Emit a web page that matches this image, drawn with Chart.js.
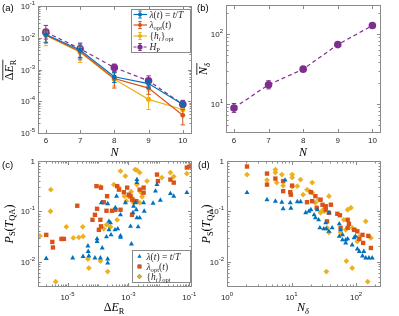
<!DOCTYPE html>
<html>
<head>
<meta charset="utf-8">
<script src="https://cdn.jsdelivr.net/npm/chart.js@4.4.0/dist/chart.umd.min.js"></script>
<style>
html, body { margin: 0; padding: 0; background: #fff; }
#wrap { position: relative; width: 399px; height: 316px; overflow: hidden; }
canvas { position: absolute; left: 0; top: 0; }
</style>
</head>
<body>
<div id="wrap">
  <canvas id="pa" width="399" height="316"></canvas>
  <canvas id="pb" width="399" height="316"></canvas>
  <canvas id="pc" width="399" height="316"></canvas>
  <canvas id="pd" width="399" height="316"></canvas>
</div>
<script>
// ---- values ----
const sizes = [6, 7, 8, 9, 10];

// (a) mean residual energy vs N (value, lower / upper end of error bar)
const erLinear   = [1.26e-2, 4.1e-3, 5.9e-4, 3.6e-4, 7.9e-5];
const erLinearLo = [7.2e-3, 2.3e-3, 3.9e-4, 2.6e-4, 6.3e-5];
const erLinearHi = [1.78e-2, 6.3e-3, 8.1e-4, 4.6e-4, 1.0e-4];
const erOpt      = [1.23e-2, 3.7e-3, 5.2e-4, 2.6e-4, 3.6e-5];
const erOptLo    = [6.8e-3, 2.0e-3, 2.6e-4, 1.66e-4, 1.8e-5];
const erOptHi    = [1.7e-2, 5.6e-3, 8.1e-4, 3.9e-4, 5.5e-5];
const erFields   = [1.17e-2, 3.5e-3, 4.9e-4, 1.15e-4, 5.5e-5];
const erFieldsLo = [5.6e-3, 1.66e-3, 3.0e-4, 5.5e-5, 3.8e-5];
const erFieldsHi = [1.5e-2, 5.0e-3, 7.4e-4, 2.1e-4, 7.9e-5];
const erHP       = [1.5e-2, 4.5e-3, 1.15e-3, 4.4e-4, 8.0e-5];
const erHPLo     = [9.1e-3, 2.4e-3, 8.7e-4, 3.0e-4, 6.2e-5];
const erHPHi     = [2.45e-2, 6.8e-3, 1.48e-3, 6.3e-4, 1.07e-4];

// (b) mean N_delta vs N
const nDelta   = [8.8, 18.9, 31.6, 71, 133];
const nDeltaLo = [7.6, 16.5, 29.5, 67, 127];
const nDeltaHi = [10.2, 21.6, 34, 75, 139];

// (c) [log10 dE_R, log10 P_S] per instance
const cLinear = [[-5.70,-1.94],[-4.83,-1.93],[-4.49,-1.90],[-4.33,-1.69],[-4.32,-1.80],[-4.30,-1.89],[-4.10,-1.93],[-4.03,-1.55],[-4.03,-1.60],[-3.92,-1.93],[-3.86,-1.73],[-3.72,-1.51],[-3.68,-1.95],[-3.68,-2.03],[-3.64,-1.37],[-3.64,-1.20],[-3.57,-1.47],[-3.44,-1.37],[-3.35,-1.35],[-3.26,-1.49],[-3.89,-0.83],[-3.68,-0.85],[-3.39,-0.70],[-3.26,-1.07],[-3.10,-0.83],[-2.90,-1.65],[-2.85,-1.03],[-2.83,-0.90],[-2.74,-0.97],[-2.72,-1.13],[-2.68,-1.31],[-2.63,-1.13],[-2.50,-0.83],[-2.48,-1.00],[-2.72,-0.37],[-2.72,-0.43],[-2.06,-0.47],[-2.11,-0.60],[-1.95,-0.78],[-1.62,-0.65],[-1.51,-0.70],[-1.08,-0.63],[-3.43,-0.93],[-3.59,-1.23],[-2.93,-1.30],[-2.77,-0.83],[-2.19,-0.84],[-3.26,-1.52]];
const cOpt = [[-5.70,-1.47],[-5.50,-1.61],[-5.48,-1.72],[-5.20,-1.55],[-5.12,-1.55],[-4.68,-0.89],[-4.05,-0.50],[-3.90,-0.53],[-4.03,-0.95],[-4.10,-1.07],[-3.92,-1.17],[-3.90,-1.30],[-3.97,-1.37],[-4.18,-1.17],[-3.81,-0.82],[-3.72,-0.99],[-3.70,-0.70],[-3.54,-0.99],[-3.43,-0.97],[-3.26,-0.97],[-3.15,-0.62],[-2.99,-0.67],[-2.93,-0.70],[-2.88,-0.77],[-2.79,-0.80],[-2.74,-0.80],[-2.63,-0.57],[-2.50,-0.53],[-2.50,-0.63],[-3.37,-0.50],[-3.31,-0.57],[-2.88,-1.07],[-2.06,-0.27],[-2.03,-0.40],[-1.62,-0.37],[-1.51,-0.43],[-1.08,-0.13],[-0.99,-0.11],[-3.04,-0.53]];
const cFields = [[-5.91,-1.49],[-5.55,-0.57],[-5.56,-1.00],[-5.39,-2.40],[-5.04,-1.31],[-4.81,-1.53],[-4.63,-1.52],[-4.50,-1.31],[-4.49,-1.50],[-4.30,-2.13],[-4.33,-1.95],[-3.92,-1.99],[-3.68,-2.20],[-3.92,-0.51],[-3.72,-1.27],[-3.59,-1.31],[-3.81,-1.35],[-3.48,-0.47],[-3.31,-0.53],[-3.43,-0.97],[-3.37,-1.17],[-3.13,-0.70],[-3.07,-0.80],[-3.00,-0.70],[-2.91,-0.61],[-2.85,-0.75],[-2.78,-0.17],[-2.72,-0.18],[-2.63,-0.23],[-2.58,-0.63],[-2.55,-0.71],[-2.83,-0.83],[-2.63,-0.83],[-3.26,-0.20],[-3.10,-0.30],[-1.62,-0.23],[-1.51,-0.31],[-1.08,-0.25],[-2.72,-0.47],[-2.39,-0.40],[-1.90,-0.33]];

// (d) [log10 N_delta, log10 P_S] per instance
const dLinear = [[0.31,-0.63],[0.62,-0.77],[0.75,-0.80],[0.85,-0.82],[0.87,-0.95],[0.90,-0.38],[0.98,-0.83],[1.09,-0.81],[1.14,-0.81],[1.22,-1.03],[1.27,-1.00],[1.30,-0.97],[1.35,-1.07],[1.37,-1.13],[1.40,-0.97],[1.42,-1.17],[1.44,-1.33],[1.50,-1.35],[1.54,-1.35],[1.58,-1.40],[1.53,-1.23],[1.63,-1.33],[1.74,-1.25],[1.76,-1.37],[1.74,-1.50],[1.79,-1.57],[1.84,-1.57],[1.87,-1.55],[1.94,-1.67],[1.97,-1.53],[1.99,-1.50],[2.02,-1.75],[2.05,-1.80],[2.10,-1.89],[2.12,-1.80],[2.15,-1.93],[2.20,-1.93],[2.25,-1.93],[1.58,-1.03],[1.79,-1.47],[1.84,-1.63],[0.99,-0.94]];
const dOpt = [[0.31,-0.11],[0.62,-0.25],[0.62,-0.47],[0.75,-0.35],[0.87,-0.40],[0.87,-0.60],[0.98,-0.62],[0.99,-0.67],[1.01,-0.49],[1.24,-0.82],[1.30,-0.62],[1.32,-0.80],[1.37,-0.70],[1.39,-0.93],[1.45,-0.77],[1.48,-0.87],[1.53,-0.90],[1.53,-0.97],[1.55,-1.20],[1.58,-1.03],[1.71,-1.05],[1.75,-1.08],[1.87,-1.17],[1.89,-1.25],[1.87,-1.33],[1.97,-1.37],[2.02,-1.40],[2.05,-1.55],[2.10,-1.47],[2.11,-1.63],[2.19,-1.49],[2.23,-1.73],[1.76,-1.33],[1.61,-0.87]];
const dFields = [[0.31,-0.27],[0.62,-0.38],[0.75,-0.17],[0.75,-0.23],[0.77,-0.43],[0.85,-0.27],[0.87,-0.49],[1.01,-0.27],[1.01,-0.33],[1.01,-0.51],[1.09,-0.50],[1.14,-0.37],[1.18,-0.67],[1.24,-0.57],[1.28,-0.60],[1.32,-0.63],[1.32,-0.43],[1.37,-0.83],[1.42,-0.77],[1.45,-1.03],[1.49,-0.97],[1.51,-1.00],[1.54,-2.20],[1.55,-1.33],[1.58,-1.42],[1.58,-0.70],[1.81,-1.17],[1.84,-1.37],[1.92,-0.93],[1.87,-0.97],[1.94,-1.33],[1.99,-1.37],[1.85,-1.99],[1.94,-2.13],[2.02,-1.60],[2.05,-1.50],[2.15,-1.20],[2.18,-2.40],[2.23,-1.53],[1.76,-1.42]];

// tick positions
const ticksN = [6, 7, 8, 9, 10];
const ticksEr = [1e-5, 1e-4, 1e-3, 1e-2, 1e-1];
const ticksNd = [10, 100];
const ticksDe = [1e-5, 1e-3, 1e-1];
const ticksPs = [1e-2, 1e-1, 1];
const ticksNs = [1, 10, 100];

// ---- look ----
const BLUE = '#0072BD', RED = '#D95319', YEL = '#EDB120', PUR = '#7E2F8E';
const SANS = '"Liberation Sans", Arial, sans-serif';
const SERIF = '"Liberation Serif", "Times New Roman", serif';
const AXIS = '#8a8a8a', TXT = '#262626';

const pts = arr => arr.map(([lx, ly]) => ({ x: 10 ** lx, y: 10 ** ly }));
const xy = (xs, ys) => xs.map((x, i) => ({ x, y: ys[i] }));

// rich text: parts = [text, flags] with i = italic, s = subscript
function drawRich(ctx, parts, x, y, size, align, overline) {
  const fontOf = f => (f.includes('i') ? 'italic ' : '') + (f.includes('s') ? size * 0.7 : size) + 'px ' + SERIF;
  let w = 0;
  parts.forEach(([t, f]) => { ctx.font = fontOf(f); w += ctx.measureText(t).width; });
  let cx = align === 'center' ? x - w / 2 : x;
  const x0 = cx;
  parts.forEach(([t, f]) => {
    ctx.font = fontOf(f);
    ctx.fillText(t, cx, y + (f.includes('s') ? size * 0.22 : 0));
    cx += ctx.measureText(t).width;
  });
  if (overline) {
    ctx.save();
    ctx.lineWidth = 0.8; ctx.strokeStyle = ctx.fillStyle;
    ctx.beginPath(); ctx.moveTo(x0, y - size * 0.85); ctx.lineTo(x0 + w, y - size * 0.85); ctx.stroke();
    ctx.restore();
  }
}

function tickLabel(ctx, v, isLog, x, y, align, oneForZero) {
  ctx.fillStyle = TXT;
  ctx.textAlign = 'left';
  if (!isLog || (oneForZero && v === 1)) {
    ctx.font = '8px ' + SANS;
    const s = String(v), w = ctx.measureText(s).width;
    ctx.fillText(s, align === 'right' ? x - w : x - w / 2, y);
    return;
  }
  const e = String(Math.round(Math.log10(v)));
  ctx.font = '8px ' + SANS;
  const wb = ctx.measureText('10').width;
  ctx.font = '6px ' + SANS;
  const ws = ctx.measureText(e).width;
  const x0 = align === 'right' ? x - wb - ws : x - (wb + ws) / 2;
  ctx.font = '8px ' + SANS;
  ctx.fillText('10', x0, y);
  ctx.font = '6px ' + SANS;
  ctx.fillText(e, x0 + wb, y - 4);
}

function minorVals(scale, major) {
  if (scale.type !== 'logarithmic') return [];
  const out = [];
  const lo = Math.floor(Math.log10(scale.min)), hi = Math.ceil(Math.log10(scale.max));
  for (let e = lo; e <= hi; e++) {
    for (let m = 1; m < 10; m++) {
      const v = m * 10 ** e;
      if (v >= scale.min && v <= scale.max && !major.some(t => Math.abs(t - v) / v < 1e-6)) out.push(v);
    }
  }
  return out;
}

// per-panel decoration (titles, tags, legends)
const deco = {
  pa: { tag: ['(a)', 2, 11], yOne: false,
        yTitle: { parts: [['Δ', ''], ['E', 'i'], ['R', 's']], x: 9, y: 70, over: true },
        xTitle: { parts: [['N', 'i']], x: 114.5, y: 155.5 }, xLab: 143, legend: 'a' },
  pb: { tag: ['(b)', 197, 11], yOne: false,
        yTitle: { parts: [['N', 'i'], ['δ', 'is']], x: 203, y: 69, over: true },
        xTitle: { parts: [['N', 'i']], x: 303, y: 155.5 }, xLab: 143 },
  pc: { tag: ['(c)', 2, 168], yOne: true,
        yTitle: { parts: [['P', 'i'], ['S', 's'], ['(', ''], ['T', 'i'], ['QA', 's'], [')', '']], x: 8.5, y: 224 },
        xTitle: { parts: [['Δ', ''], ['E', 'i'], ['R', 's']], x: 114, y: 311 }, xLab: 300, legend: 'c' },
  pd: { tag: ['(d)', 198, 168], yOne: true,
        yTitle: { parts: [['P', 'i'], ['S', 's'], ['(', ''], ['T', 'i'], ['QA', 's'], [')', '']], x: 206, y: 224 },
        xTitle: { parts: [['N', 'i'], ['δ', 'is']], x: 303, y: 311 }, xLab: 300 }
};

const legendA = [
  { color: BLUE, parts: [['λ', 'i'], ['(', ''], ['t', 'i'], [') = ', ''], ['t', 'i'], ['/', ''], ['T', 'i']] },
  { color: RED, parts: [['λ', 'i'], ['opt', 's'], ['(', ''], ['t', 'i'], [')', '']] },
  { color: YEL, parts: [['{', ''], ['h', 'i'], ['i', 'is'], ['}', ''], ['opt', 's']] },
  { color: PUR, parts: [['H', 'i'], ['P', 's']], dash: true }
];
const legendC = [
  { color: BLUE, style: 'triangle', parts: legendA[0].parts },
  { color: RED, style: 'rect', parts: legendA[1].parts },
  { color: YEL, style: 'rectRot', parts: legendA[2].parts }
];

function drawLegend(ctx, which) {
  ctx.save();
  if (which === 'a') {
    ctx.fillStyle = '#fff'; ctx.strokeStyle = AXIS; ctx.lineWidth = 1;
    ctx.fillRect(131.5, 9.5, 59, 43); ctx.strokeRect(131.5, 9.5, 59, 43);
    const ys = [14.5, 25, 36, 47];
    legendA.forEach((e, i) => {
      const y = ys[i];
      ctx.strokeStyle = e.color; ctx.fillStyle = e.color; ctx.lineWidth = 1.2;
      ctx.setLineDash(e.dash ? [3, 2] : []);
      ctx.beginPath(); ctx.moveTo(133.5, y); ctx.lineTo(147, y); ctx.stroke();
      ctx.setLineDash([]); ctx.lineWidth = 1;
      ctx.beginPath();
      ctx.moveTo(140, y - 3.5); ctx.lineTo(140, y + 3.5);
      ctx.moveTo(138.3, y - 3.5); ctx.lineTo(141.7, y - 3.5);
      ctx.moveTo(138.3, y + 3.5); ctx.lineTo(141.7, y + 3.5);
      ctx.stroke();
      ctx.beginPath(); ctx.arc(140, y, e.dash ? 2.6 : 2, 0, Math.PI * 2); ctx.fill();
      ctx.fillStyle = TXT;
      drawRich(ctx, e.parts, 149.5, y + 3.3, 9.5, 'left');
    });
  } else {
    ctx.fillStyle = '#fff'; ctx.strokeStyle = AXIS; ctx.lineWidth = 1;
    ctx.fillRect(132.5, 250.5, 58, 32); ctx.strokeRect(132.5, 250.5, 58, 32);
    const ys = [256.5, 266.5, 276.5];
    legendC.forEach((e, i) => {
      const y = ys[i];
      Chart.helpers.drawPoint(ctx, { pointStyle: e.style, radius: e.style === 'rect' ? 2.6 : 2.4, rotation: 0, borderWidth: 0 }, 139.5, y);
      ctx.fillStyle = e.color; ctx.fill();
      ctx.fillStyle = TXT;
      drawRich(ctx, e.parts, 146.5, y + 3.3, 9.5, 'left');
    });
  }
  ctx.restore();
}

const frame = {
  id: 'frame',
  afterDraw(chart) {
    const d = deco[chart.canvas.id];
    const ctx = chart.ctx, a = chart.chartArea;
    const xs = chart.scales.x, ys = chart.scales.y;
    ctx.save();
    const L = Math.round(a.left) + 0.5, R = Math.round(a.right) + 0.5;
    const T = Math.round(a.top) + 0.5, B = Math.round(a.bottom) + 0.5;
    ctx.strokeStyle = AXIS; ctx.lineWidth = 1;
    ctx.strokeRect(L, T, R - L, B - T);
    const xMaj = xs.ticks.map(t => t.value), yMaj = ys.ticks.map(t => t.value);
    ctx.beginPath();
    const vt = (v, len) => { const p = Math.round(xs.getPixelForValue(v)) + 0.5; ctx.moveTo(p, B); ctx.lineTo(p, B - len); ctx.moveTo(p, T); ctx.lineTo(p, T + len); };
    const ht = (v, len) => { const p = Math.round(ys.getPixelForValue(v)) + 0.5; ctx.moveTo(L, p); ctx.lineTo(L + len, p); ctx.moveTo(R, p); ctx.lineTo(R - len, p); };
    xMaj.forEach(v => vt(v, 3.5)); minorVals(xs, xMaj).forEach(v => vt(v, 2));
    yMaj.forEach(v => ht(v, 3.5)); minorVals(ys, yMaj).forEach(v => ht(v, 2));
    ctx.stroke();

    // tick labels
    xMaj.forEach(v => tickLabel(ctx, v, xs.type === 'logarithmic', xs.getPixelForValue(v), d.xLab, 'center', false));
    yMaj.forEach(v => tickLabel(ctx, v, ys.type === 'logarithmic', a.left - 3, ys.getPixelForValue(v) + 3, 'right', d.yOne));

    // titles
    ctx.fillStyle = '#000';
    drawRich(ctx, d.xTitle.parts, d.xTitle.x, d.xTitle.y, 12, 'center', d.xTitle.over);
    ctx.save();
    ctx.translate(d.yTitle.x, d.yTitle.y); ctx.rotate(-Math.PI / 2);
    drawRich(ctx, d.yTitle.parts, 0, 4, 12, 'center', d.yTitle.over);
    ctx.restore();
    ctx.font = '9.5px ' + SANS; ctx.fillStyle = '#000';
    ctx.fillText(d.tag[0], d.tag[1], d.tag[2]);
    if (d.legend) drawLegend(ctx, d.legend);
    ctx.restore();
  }
};

const errBars = {
  id: 'errBars',
  beforeDatasetDraw(chart, args) {
    const ds = chart.data.datasets[args.index];
    if (!ds.lo) return;
    const ys = chart.scales.y, ctx = chart.ctx;
    ctx.save();
    ctx.strokeStyle = ds.borderColor; ctx.lineWidth = 1; ctx.setLineDash([]);
    ctx.beginPath();
    args.meta.data.forEach((pt, i) => {
      const y0 = ys.getPixelForValue(ds.lo[i]), y1 = ys.getPixelForValue(ds.hi[i]);
      ctx.moveTo(pt.x, y0); ctx.lineTo(pt.x, y1);
      ctx.moveTo(pt.x - 2.2, y0); ctx.lineTo(pt.x + 2.2, y0);
      ctx.moveTo(pt.x - 2.2, y1); ctx.lineTo(pt.x + 2.2, y1);
    });
    ctx.stroke();
    ctx.restore();
  }
};

function axis(type, min, max, ticks) {
  return {
    type, min, max,
    afterBuildTicks: s => { s.ticks = ticks.map(v => ({ value: v })); },
    afterFit: s => { if (s.isHorizontal()) s.height = 0; else s.width = 0; },
    grid: { display: false }, border: { display: false }, ticks: { display: false }
  };
}

function makeChart(id, datasets, x, y, pad) {
  return new Chart(document.getElementById(id), {
    type: 'line',
    data: { datasets },
    options: {
      responsive: false, animation: false, devicePixelRatio: 1, events: [],
      layout: { padding: pad },
      plugins: { legend: { display: false }, tooltip: { enabled: false } },
      scales: { x, y }
    },
    plugins: [errBars, frame]
  });
}

function errLine(xs, ys, lo, hi, color, r, dash) {
  return {
    data: xy(xs, ys), lo, hi,
    borderColor: color, backgroundColor: color, borderWidth: 1.2,
    borderDash: dash ? [4, 3] : [], pointRadius: r, pointBorderWidth: 0,
    pointBackgroundColor: color, tension: 0
  };
}

function scatter(data, color, style, r) {
  return {
    data: pts(data), showLine: false,
    pointStyle: style, pointRadius: r, pointBorderWidth: 0,
    pointBorderColor: color, pointBackgroundColor: color, borderColor: color
  };
}

makeChart('pa', [
  errLine(sizes, erLinear, erLinearLo, erLinearHi, BLUE, 2.4),
  errLine(sizes, erOpt, erOptLo, erOptHi, RED, 2.4),
  errLine(sizes, erFields, erFieldsLo, erFieldsHi, YEL, 2.6),
  errLine(sizes, erHP, erHPLo, erHPHi, PUR, 3.8, true)
], axis('linear', 5.77, 10.24, ticksN), axis('logarithmic', 1e-5, 1e-1, ticksEr),
  { left: 38, top: 6, right: 208, bottom: 183 });

makeChart('pb', [
  errLine(sizes, nDelta, nDeltaLo, nDeltaHi, PUR, 3.8, true)
], axis('linear', 5.77, 10.22, ticksN), axis('logarithmic', 3.98, 262, ticksNd),
  { left: 226, top: 5, right: 19, bottom: 184 });

makeChart('pc', [
  scatter(cLinear, BLUE, 'triangle', 2.9),
  scatter(cOpt, RED, 'rect', 3.1),
  scatter(cFields, YEL, 'rectRot', 2.9)
], axis('logarithmic', 1.07e-6, 0.114, ticksDe), axis('logarithmic', 3.26e-3, 1, ticksPs),
  { left: 38, top: 161, right: 208, bottom: 30 });

makeChart('pd', [
  scatter(dLinear, BLUE, 'triangle', 2.9),
  scatter(dOpt, RED, 'rect', 3.1),
  scatter(dFields, YEL, 'rectRot', 2.9)
], axis('logarithmic', 1, 235, ticksNs), axis('logarithmic', 3.26e-3, 1, ticksPs),
  { left: 227, top: 161, right: 19, bottom: 30 });
</script>
</body>
</html>
